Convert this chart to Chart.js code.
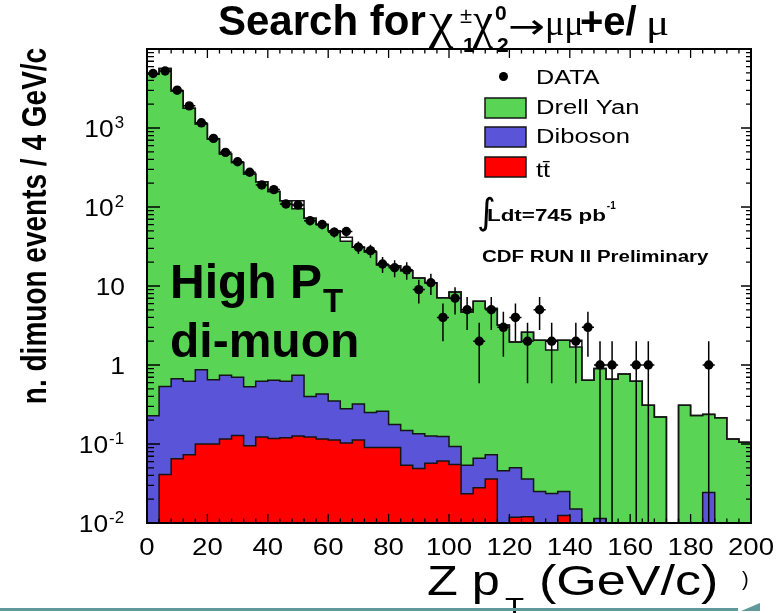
<!DOCTYPE html>
<html>
<head>
<meta charset="utf-8">
<title>Z pT of high-pT dimuon events</title>
<script src="https://cdn.jsdelivr.net/npm/chart.js@4.4.1/dist/chart.umd.min.js"></script>
<style>
  html, body { margin: 0; padding: 0; background: #ffffff; overflow: hidden; }
  #frame { position: relative; width: 782px; height: 613px; background: #ffffff; }
  canvas { display: block; }
</style>
</head>
<body>
<div id="frame"><canvas id="chart" width="782" height="613"></canvas></div>
<script>
// Z pT spectrum of high-pT dimuon events, 4 GeV/c bins (lower bin edges)
const binLow = [0, 4, 8, 12, 16, 20, 24, 28, 32, 36, 40, 44, 48, 52, 56, 60, 64, 68, 72, 76,
                80, 84, 88, 92, 96, 100, 104, 108, 112, 116, 120, 124, 128, 132, 136, 140, 144, 148, 152, 156,
                160, 164, 168, 172, 176, 180, 184, 188, 192, 196];
const X_MAX = 200;

// observed events per bin
const dataCounts = [4890, 5270, 3010, 1907, 1163, 739, 492, 374, 275, 190,
                    166, 109, 106, 67, 60, 48, 49, 31, 28, 19,
                    17, 16, 9, 11, 4, 7, 5, 2, 5, 3,
                    4, 2, 5, 2, 0, 2, 3, 1, 1, 0,
                    1, 1, 0, 0, 0, 0, 1, 0, 0, 0];

// expected backgrounds per bin
const ttbar = [0, 0.041, 0.065, 0.073, 0.10, 0.10, 0.116, 0.128, 0.095, 0.123,
               0.117, 0.12, 0.126, 0.123, 0.116, 0.112, 0.103, 0.112, 0.09, 0.09,
               0.09, 0.054, 0.049, 0.057, 0.061, 0.055, 0.0234, 0.028, 0.036, 0,
               0.0118, 0.012, 0, 0, 0.0124, 0, 0, 0, 0, 0,
               0, 0, 0, 0, 0, 0, 0, 0, 0, 0];
const diboson = [0.228, 0.494, 0.605, 0.552, 0.77, 0.55, 0.624, 0.572, 0.435, 0.502,
                 0.523, 0.505, 0.614, 0.277, 0.314, 0.238, 0.177, 0.208, 0.16, 0.17,
                 0.087, 0.094, 0.086, 0.069, 0.063, 0.038, 0.0306, 0.038, 0.037, 0.046,
                 0.0382, 0.024, 0.025, 0.0237, 0.0126, 0.015, 0, 0.0114, 0, 0,
                 0, 0, 0, 0, 0, 0, 0.0244, 0, 0, 0];
const drellYan = [4790, 5650, 2950, 1780, 1120, 723, 467, 366, 261, 208,
                  156, 119, 94, 71.6, 59.6, 49.6, 36.7, 30.7, 26.7, 18.3,
                  17.8, 15.45, 12.47, 10.87, 6.98, 8.31, 4.65, 6.33, 5.13, 3.15,
                  1.91, 2.56, 2.03, 1.52, 2.03, 1.68, 0.64, 0.89, 0.66, 0.77,
                  0.625, 0.31, 0.22, 0, 0.31, 0.23, 0.213, 0.215, 0.116, 0.105];
// total expectation, drawn as an unfilled outline
const totalSM = [4790, 5650, 2950, 1780, 1121, 724, 468, 367, 262, 209,
                 157, 120, 120, 72, 60, 50, 41.5, 31, 27, 18.5,
                 18, 15.6, 12.6, 11, 7.1, 8.4, 4.7, 6.4, 5.2, 3.2,
                 1.96, 2.6, 2.06, 2.06, 2.06, 2.06, 0.64, 0.9, 0.66, 0.77,
                 0.625, 0.31, 0.22, 0, 0.31, 0.23, 0.237, 0.215, 0.116, 0.105];

// axis ticks
const xTickValues = [0, 20, 40, 60, 80, 100, 120, 140, 160, 180, 200];
const xTickLabels = ['0', '20', '40', '60', '80', '100', '120', '140', '160', '180', '200'];
const yTickValues = [0.01, 0.1, 1, 10, 100, 1000];
const yTickLabels = [['10', '-2'], ['10', '-1'], ['1', ''], ['10', ''], ['10', '2'], ['10', '3']];

const Y_MIN = 0.01, Y_MAX = 10000;
const FLOOR = 1e-3;            // empty bins are drawn below the visible range

const GREEN = 'rgb(89,212,84)';
const BLUE = 'rgb(89,84,216)';
const RED = 'rgb(255,0,0)';
const INK = '#151515';
const SANS = '"Liberation Sans", Arial, Helvetica, sans-serif';
const SERIF = '"Liberation Serif", "DejaVu Serif", serif';

function binHigh(i) { return i + 1 < binLow.length ? binLow[i + 1] : X_MAX; }

// stacked cumulative heights
const stackTT = ttbar.slice();
const stackVV = ttbar.map((v, i) => v + diboson[i]);
const stackDY = stackVV.map((v, i) => v + drellYan[i]);

function stepPoints(values) {
  const pts = binLow.map((x, i) => ({ x, y: Math.max(values[i], FLOOR) }));
  pts.push({ x: X_MAX, y: Math.max(values[values.length - 1], FLOOR) });
  return pts;
}

const dataPoints = binLow.map((lo, i) => ({
  x: (lo + binHigh(i)) / 2,
  y: dataCounts[i] > 0 ? dataCounts[i] : null
}));

function txt(ctx, s, x, y, font, opt) {
  opt = opt || {};
  ctx.save();
  ctx.font = font;
  ctx.fillStyle = opt.color || '#000';
  ctx.textBaseline = 'alphabetic';
  ctx.textAlign = opt.align || 'left';
  ctx.translate(x, y);
  ctx.scale(opt.sx || 1, 1);
  ctx.fillText(s, 0, 0);
  const w = ctx.measureText(s).width * (opt.sx || 1);
  ctx.restore();
  return w;
}

// sqrt(N) error bars and bin-width bars on the data points
const errorBars = {
  id: 'errorBars',
  afterDatasetsDraw(chart) {
    const { ctx, chartArea: a, scales: { x, y } } = chart;
    ctx.save();
    ctx.beginPath();
    ctx.rect(a.left, a.top, a.right - a.left, a.bottom - a.top);
    ctx.clip();
    ctx.strokeStyle = '#000';
    ctx.lineWidth = 1.5;
    dataCounts.forEach((n, i) => {
      if (n <= 0) return;
      const lo = binLow[i], hi = binHigh(i);
      const cx = x.getPixelForValue((lo + hi) / 2);
      const cy = y.getPixelForValue(n);
      const e = Math.sqrt(n);
      const yTop = y.getPixelForValue(n + e);
      const yBot = n - e > 0 ? y.getPixelForValue(n - e) : a.bottom;
      ctx.beginPath();
      ctx.moveTo(cx, yTop); ctx.lineTo(cx, yBot);
      ctx.moveTo(x.getPixelForValue(lo), cy); ctx.lineTo(x.getPixelForValue(hi), cy);
      ctx.stroke();
    });
    ctx.restore();
  }
};

// frame, inward ticks, labels, legend and annotations
const decorations = {
  id: 'decorations',
  afterDraw(chart) {
    const { ctx, chartArea: a, scales: { x, y } } = chart;
    ctx.save();

    function seg(x1, y1, x2, y2) { ctx.moveTo(x1, y1); ctx.lineTo(x2, y2); }

    // ticks
    ctx.strokeStyle = '#000';
    ctx.lineWidth = 1.3;
    ctx.beginPath();
    for (let v = 0; v <= X_MAX; v += 4) {
      const px = x.getPixelForValue(v);
      const len = v % 20 === 0 ? 9 : 4.5;
      seg(px, a.bottom, px, a.bottom - len);
      seg(px, a.top, px, a.top + len);
    }
    for (let e = -2; e <= 4; e++) {
      for (let m = 1; m <= 9; m++) {
        const v = m * Math.pow(10, e);
        if (v < Y_MIN * 0.999 || v > Y_MAX * 1.001) continue;
        const py = y.getPixelForValue(v);
        const major = m === 1;
        seg(a.left, py, a.left + (major ? 13 : 7), py);
        seg(a.right, py, a.right - (major ? 10 : 5), py);
      }
    }
    ctx.stroke();

    // frame
    ctx.lineWidth = 2;
    ctx.strokeRect(a.left, a.top, a.right - a.left, a.bottom - a.top);

    // x tick labels
    xTickValues.forEach((v, i) => {
      txt(ctx, xTickLabels[i], x.getPixelForValue(v), 555, '23px ' + SANS, { align: 'center', sx: 1.2 });
    });

    // y tick labels (powers of ten)
    yTickValues.forEach((v, i) => {
      const py = y.getPixelForValue(v);
      const [base, exp] = yTickLabels[i];
      if (exp) {
        const ew = txt(ctx, exp, 124, py - 0.5, '16px ' + SANS, { align: 'right', sx: 1.05 });
        txt(ctx, base, 124 - ew - 1, py + 9, '24px ' + SANS, { align: 'right', sx: 1.1 });
      } else {
        txt(ctx, base, 125, py + 9, '24px ' + SANS, { align: 'right', sx: 1.1 });
      }
    });

    // y axis title
    ctx.save();
    ctx.translate(46, 226);
    ctx.rotate(-Math.PI / 2);
    ctx.scale(1, 1.25);
    ctx.font = 'bold 28px ' + SANS;
    ctx.fillStyle = '#000';
    ctx.textAlign = 'center';
    ctx.textBaseline = 'alphabetic';
    ctx.fillText('n. dimuon events / 4 GeV/c', 0, 0);
    ctx.restore();

    // x axis title
    txt(ctx, 'Z p', 427, 595, '42px ' + SANS, { sx: 1.2 });
    txt(ctx, 'T', 505, 616, '26px ' + SANS, { sx: 1.2 });
    txt(ctx, '(GeV/c)', 539, 595, '42px ' + SANS, { sx: 1.24 });
    txt(ctx, ')', 742, 586, '20px ' + SANS);

    // title
    txt(ctx, 'Search for', 218, 35, 'bold 42px ' + SANS);
    txt(ctx, '\u03C7', 429, 37, '50px ' + SERIF, { sx: 1.1 });
    txt(ctx, '\u00B1', 460, 23, '22px ' + SANS);
    txt(ctx, '1', 463, 52, 'bold 21px ' + SANS);
    txt(ctx, '\u03C7', 473, 37, '50px ' + SERIF, { sx: 0.9 });
    txt(ctx, '0', 495, 20, 'bold 21px ' + SANS);
    txt(ctx, '2', 497, 52, 'bold 21px ' + SANS);
    txt(ctx, '\u2192', 508, 38, '34px "DejaVu Sans", sans-serif', { sx: 1.3 });
    txt(ctx, '\u03BC\u03BC', 545, 35, '36px ' + SERIF);
    txt(ctx, '+e/', 580, 35, 'bold 40px ' + SANS);
    txt(ctx, '\u03BC', 646, 35, '36px ' + SERIF, { sx: 1.2 });

    // legend
    ctx.fillStyle = '#000';
    ctx.beginPath();
    ctx.arc(503.5, 76.5, 4.5, 0, Math.PI * 2);
    ctx.fill();
    txt(ctx, 'DATA', 536, 84, '20px ' + SANS, { sx: 1.26 });
    const boxes = [[GREEN, 98, 'Drell Yan', 114], [BLUE, 127, 'Diboson', 143], [RED, 157, 'tt\u0304', 177]];
    boxes.forEach(([col, by, label, ty]) => {
      ctx.fillStyle = col;
      ctx.fillRect(485, by, 41, 20);
      ctx.strokeStyle = INK;
      ctx.lineWidth = 1.5;
      ctx.strokeRect(485, by, 41, 20);
      txt(ctx, label, 536, ty, '20px ' + SANS, { sx: 1.28 });
    });
    txt(ctx, '\u222B', 477, 224, '36px "DejaVu Sans", sans-serif');
    const lw = txt(ctx, 'Ldt=745 pb', 487, 221, 'bold 16px ' + SANS, { sx: 1.4 });
    txt(ctx, '-1', 487 + lw + 1, 209, 'bold 10px ' + SANS);
    txt(ctx, 'CDF RUN II Preliminary', 482, 262, 'bold 16px ' + SANS, { sx: 1.28 });

    // annotation inside the plot
    txt(ctx, 'High P', 170, 298, 'bold 48px ' + SANS);
    txt(ctx, 'T', 323, 312, 'bold 33px ' + SANS);
    txt(ctx, 'di-muon', 170, 357, 'bold 48px ' + SANS);

    // page rule at the bottom
    ctx.fillStyle = 'rgb(96,153,153)';
    ctx.fillRect(0, 608, 738, 3);
    ctx.beginPath();
    ctx.moveTo(741, 611); ctx.lineTo(760, 603); ctx.lineTo(760, 611); ctx.closePath();
    ctx.fill();

    ctx.restore();
  }
};

const stepStyle = {
  stepped: true,
  borderColor: INK,
  borderWidth: 1.5,
  borderJoinStyle: 'miter',
  borderCapStyle: 'butt',
  pointRadius: 0,
  pointHoverRadius: 0,
  tension: 0
};

new Chart(document.getElementById('chart'), {
  type: 'line',
  data: {
    datasets: [
      { label: 'DATA', data: dataPoints, showLine: false, pointRadius: 4.7, pointHoverRadius: 4.7,
        pointBackgroundColor: '#000', pointBorderColor: '#000', pointBorderWidth: 0, order: 0 },
      Object.assign({ label: 'total', data: stepPoints(totalSM), fill: false, order: 1 }, stepStyle),
      Object.assign({ label: 'tt\u0304', data: stepPoints(stackTT), fill: 'start', backgroundColor: RED, order: 2 }, stepStyle),
      Object.assign({ label: 'Diboson', data: stepPoints(stackVV), fill: 'start', backgroundColor: BLUE, order: 3 }, stepStyle),
      Object.assign({ label: 'Drell Yan', data: stepPoints(stackDY), fill: 'start', backgroundColor: GREEN, order: 4 }, stepStyle)
    ]
  },
  options: {
    responsive: false,
    animation: false,
    devicePixelRatio: 1,
    events: [],
    layout: { padding: { left: 147, right: 31, top: 49, bottom: 90 } },
    scales: {
      x: { type: 'linear', min: 0, max: X_MAX, display: false },
      y: { type: 'logarithmic', min: Y_MIN, max: Y_MAX, display: false }
    },
    plugins: {
      legend: { display: false },
      tooltip: { enabled: false },
      title: { display: false }
    }
  },
  plugins: [errorBars, decorations]
});
</script>
</body>
</html>
